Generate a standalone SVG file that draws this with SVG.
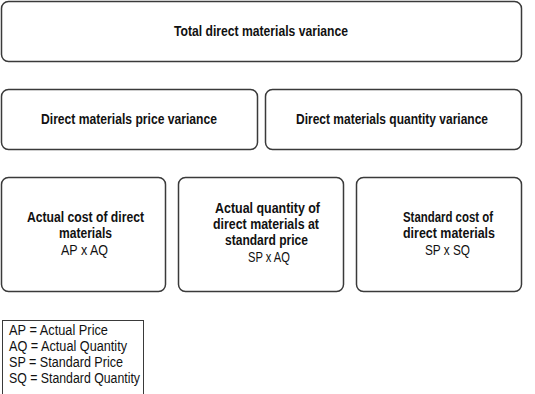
<svg xmlns="http://www.w3.org/2000/svg" width="535" height="394" viewBox="0 0 535 394">
<style>
.box{fill:#fff;stroke:#3a3a3a;stroke-width:1.5}
.b{font-family:"Liberation Sans",Arial,sans-serif;font-weight:bold;font-size:14.5px;fill:#111;text-anchor:middle}
.h{font-family:"Liberation Sans",Arial,sans-serif;font-weight:bold;font-size:15.5px;fill:#111;text-anchor:middle}
.n{font-family:"Liberation Sans",Arial,sans-serif;font-size:14.5px;fill:#111;text-anchor:middle}
.l{font-family:"Liberation Sans",Arial,sans-serif;font-size:14px;fill:#111}
</style>
<rect width="535" height="394" fill="#fff"/>
<g id="total">
<rect class="box" x="1.5" y="1.5" width="520" height="60" rx="7"/>
<text class="h" x="261" y="36" textLength="174" lengthAdjust="spacingAndGlyphs">Total direct materials variance</text>
</g>
<g id="price">
<rect class="box" x="1.5" y="89.5" width="256" height="60" rx="7"/>
<text class="h" x="129" y="124" textLength="176" lengthAdjust="spacingAndGlyphs">Direct materials price variance</text>
</g>
<g id="quantity">
<rect class="box" x="265.5" y="89.5" width="256" height="60" rx="7"/>
<text class="h" x="392" y="124" textLength="192" lengthAdjust="spacingAndGlyphs">Direct materials quantity variance</text>
</g>
<g id="actual">
<rect class="box" x="1.5" y="177.5" width="164" height="114" rx="7"/>
<text class="b" x="85.5" y="222" textLength="117" lengthAdjust="spacingAndGlyphs">Actual cost of direct</text>
<text class="b" x="85.5" y="238" textLength="53" lengthAdjust="spacingAndGlyphs">materials</text>
<text class="n" x="84.5" y="255" textLength="47" lengthAdjust="spacingAndGlyphs">AP x AQ</text>
</g>
<g id="aqsp">
<rect class="box" x="178.5" y="177.5" width="165" height="114" rx="7"/>
<text class="b" x="267.5" y="213" textLength="105" lengthAdjust="spacingAndGlyphs">Actual quantity of</text>
<text class="b" x="266" y="229" textLength="106" lengthAdjust="spacingAndGlyphs">direct materials at</text>
<text class="b" x="266.5" y="245" textLength="83" lengthAdjust="spacingAndGlyphs">standard price</text>
<text class="n" x="269" y="262" textLength="42" lengthAdjust="spacingAndGlyphs">SP x AQ</text>
</g>
<g id="standard">
<rect class="box" x="356.5" y="177.5" width="165" height="114" rx="7"/>
<text class="b" x="448" y="222" textLength="90" lengthAdjust="spacingAndGlyphs">Standard cost of</text>
<text class="b" x="449" y="238" textLength="92" lengthAdjust="spacingAndGlyphs">direct materials</text>
<text class="n" x="447.5" y="255" textLength="45" lengthAdjust="spacingAndGlyphs">SP x SQ</text>
</g>
<g id="legend">
<rect x="2.5" y="320.5" width="141" height="75" fill="#fff" stroke="#3a3a3a" stroke-width="1"/>
<text class="l" x="9" y="335" textLength="99" lengthAdjust="spacingAndGlyphs">AP = Actual Price</text>
<text class="l" x="9" y="351" textLength="118" lengthAdjust="spacingAndGlyphs">AQ = Actual Quantity</text>
<text class="l" x="9" y="367" textLength="114" lengthAdjust="spacingAndGlyphs">SP = Standard Price</text>
<text class="l" x="9" y="383" textLength="131" lengthAdjust="spacingAndGlyphs">SQ = Standard Quantity</text>
</g>
<g id="connectors"></g>
</svg>
